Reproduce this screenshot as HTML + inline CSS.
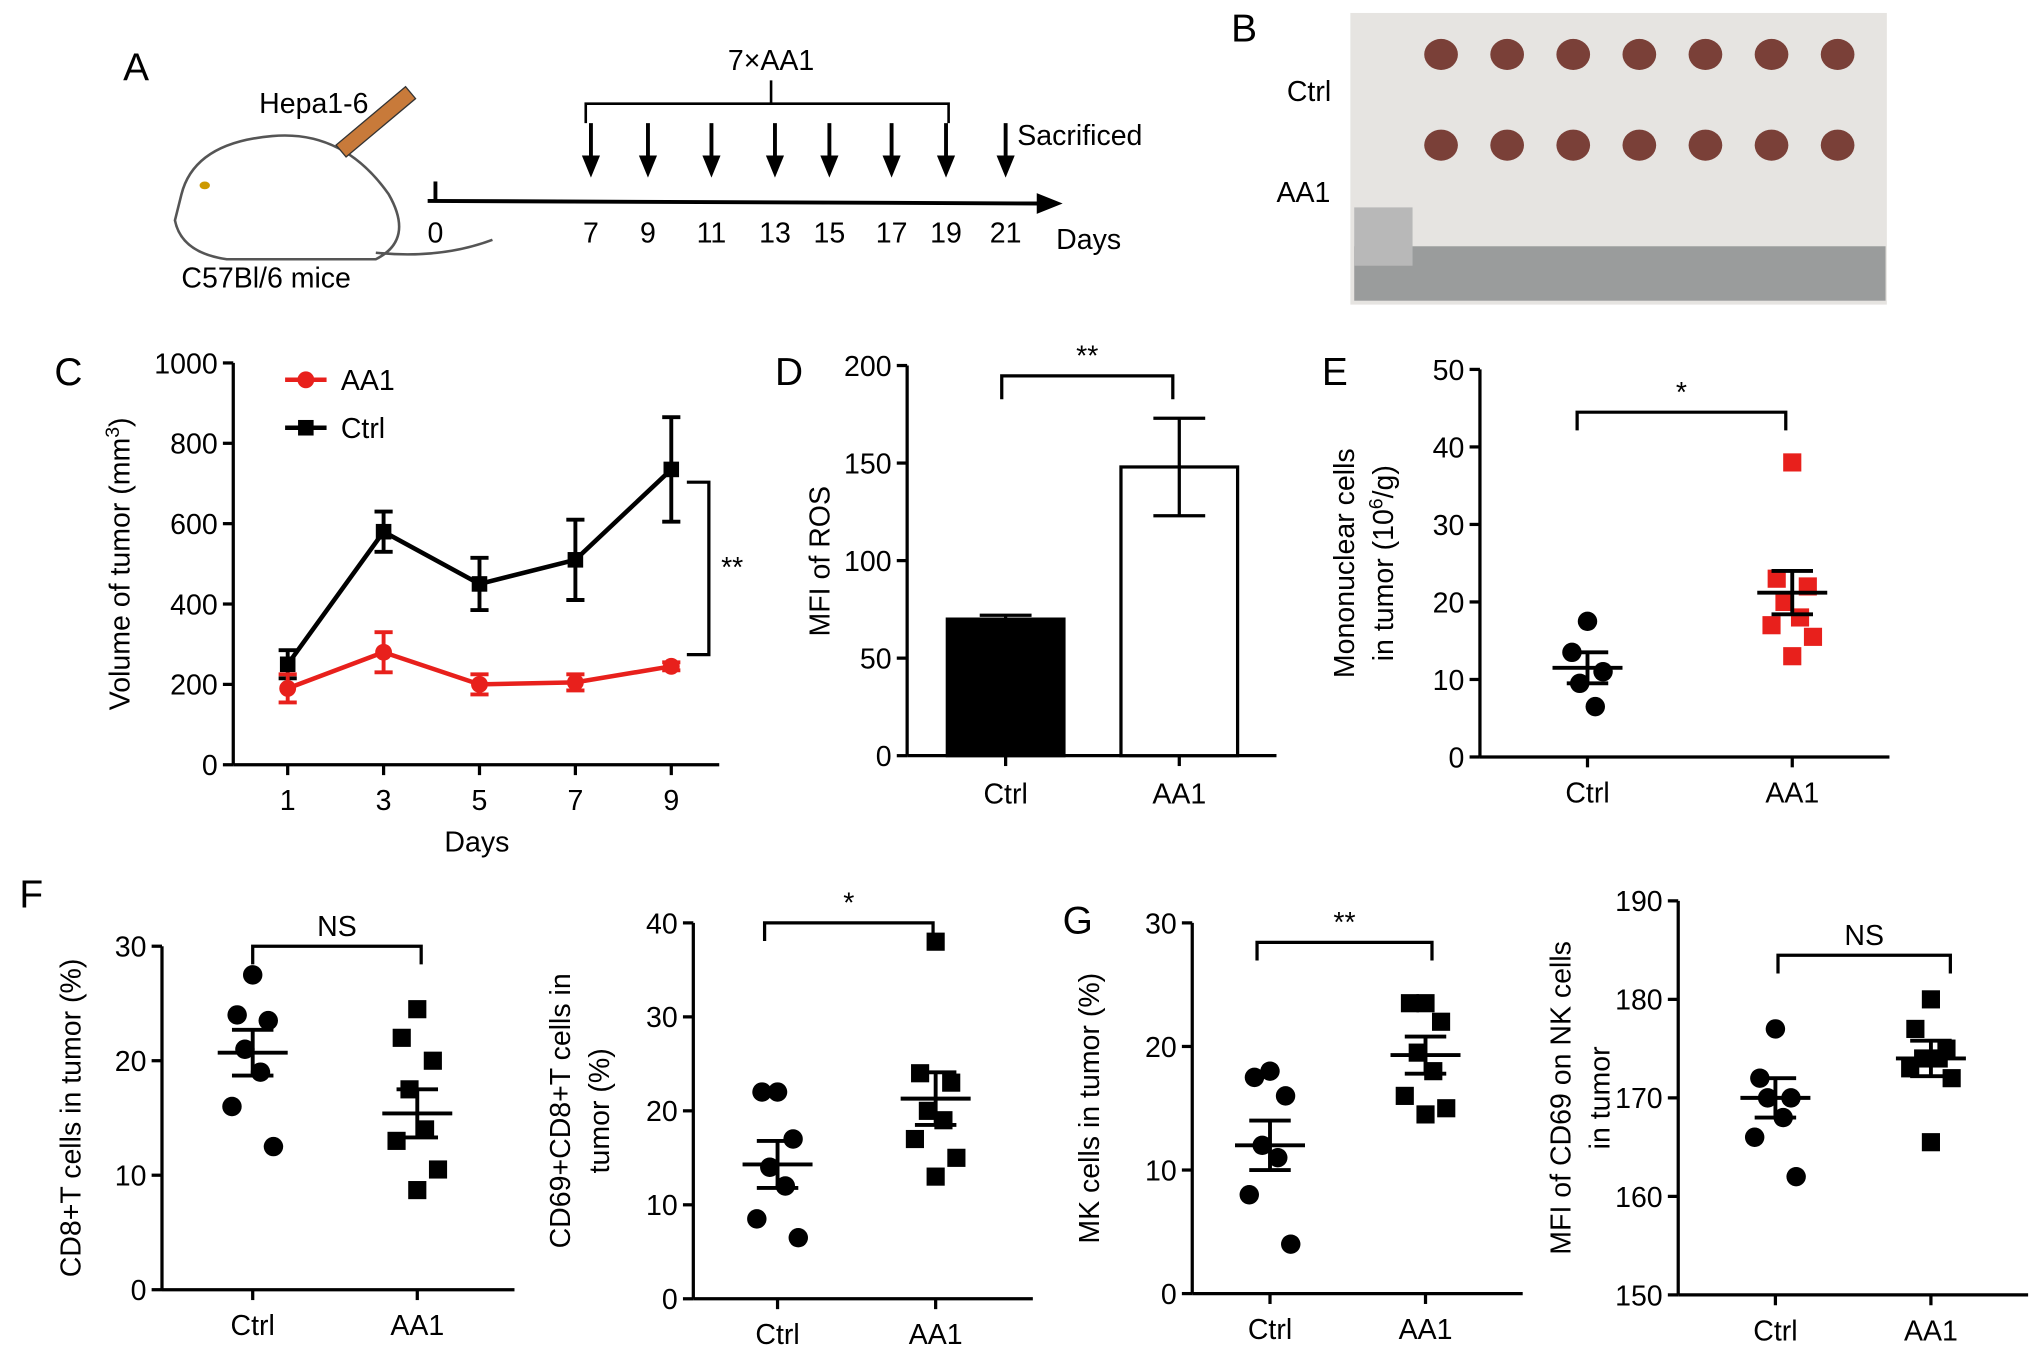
<!DOCTYPE html>
<html><head><meta charset="utf-8"><style>
html,body{margin:0;padding:0;background:#fff}
svg{display:block;font-family:"Liberation Sans",Arial,sans-serif}
</style></head><body>
<svg id="s" width="2032" height="1361" viewBox="0 0 1568 1050" preserveAspectRatio="none">
<!-- Panel A -->
<g font-size="22">
<text x="95" y="62" font-size="30">A</text>
<path d="M140,150 Q150,110 210,105 Q265,100 300,150 Q320,185 290,200 L175,200 Q140,195 135,170 Z" fill="none" stroke="#555" stroke-width="2"/>
<path d="M290,195 Q340,200 380,185" fill="none" stroke="#555" stroke-width="2"/>
<ellipse cx="158" cy="143" rx="4" ry="3" fill="#c90"/>
<rect x="255" y="88" width="70" height="12" fill="#c87a3a" stroke="#333" transform="rotate(-40 290 94)"/>
<text x="200" y="87">Hepa1-6</text>
<text x="140" y="222">C57Bl/6 mice</text>
<line x1="330" y1="155" x2="805" y2="157" stroke="#000" stroke-width="3"/>
<polygon points="800,149 820,157 800,165" fill="#000"/>
<line x1="336" y1="140" x2="336" y2="155" stroke="#000" stroke-width="3"/>
<path d="M452,95 V80 H732 V95 M595,80 V62" fill="none" stroke="#000" stroke-width="2"/>
<text x="595" y="54" text-anchor="middle">7×AA1</text>
<text x="785" y="112">Sacrificed</text>
<text x="815" y="192">Days</text>
<g id="tl"></g>
</g>
<!-- Panel B -->
<g font-size="22">
<text x="950" y="32" font-size="30">B</text>
<rect x="1042" y="10" width="414" height="225" fill="#e6e4e1"/>
<rect x="1045" y="190" width="410" height="42" fill="#9a9c9c"/>
<rect x="1045" y="160" width="45" height="45" fill="#b8b8b8"/>
<text x="993" y="78">Ctrl</text>
<text x="985" y="156">AA1</text>
<g id="tumors"></g>
</g>
<g id="charts"></g>
</svg>
<script>
const NS="http://www.w3.org/2000/svg";
function mk(p,t,a){const e=document.createElementNS(NS,t);for(const k in a)e.setAttribute(k,a[k]);p.appendChild(e);return e;}
function tx(p,x,y,s,a){const e=mk(p,'text',Object.assign({x:x,y:y},a||{}));e.textContent=s;return e;}
// timeline
const tlDays=[0,7,9,11,13,15,17,19,21];
const tlX=[336,456,500,549,598,640,688,730,776];
const tl=document.getElementById('tl');
tlDays.forEach((d,i)=>{const t=tx(tl,tlX[i],187,String(d),{'text-anchor':'middle'});


if(d>=7){mk(tl,'line',{x1:tlX[i],y1:95,x2:tlX[i],y2:122,stroke:'#000','stroke-width':3});
mk(tl,'polygon',{points:`${tlX[i]-7},120 ${tlX[i]+7},120 ${tlX[i]},137`,fill:'#000'});}});
const tm=document.getElementById('tumors');
for(let r=0;r<2;r++)for(let i=0;i<7;i++){const e=mk(tm,'ellipse',{cx:1112+i*51,cy:42+r*70,rx:13,ry:12,fill:'#7a4038'});

}

const ch=document.getElementById('charts');
// ---------- Panel C data ----------
const cDays=[1,3,5,7,9];
const cCtrl=[250,580,450,510,735];
const cCtrlErr=[35,50,65,100,130];
const cAA1=[190,280,200,205,245];
const cAA1Err=[35,50,25,20,10];
const cTicks=[0,200,400,600,800,1000];
// ---------- Panel D data ----------
const dCats=['Ctrl','AA1'];
const dVals=[70,148];
const dErr=[2,25];
const dTicks=[0,50,100,150,200];
// ---------- scatter data ----------
const eCtrl=[17.5,13.5,11,9.5,6.5];
const eAA1=[38,23,22,20,18,17,15.5,13];
const eStats=[[11.5,2],[21.2,2.8]];
const f1Ctrl=[27.5,24,23.5,21,19,16,12.5];
const f1AA1=[24.5,22,20,17.5,14,13,10.5,8.7];
const f1Stats=[[20.7,2],[15.4,2.1]];
const f2Ctrl=[22,22,17,14,12,8.5,6.5];
const f2AA1=[38,24,23,20,19,17,15,13];
const f2Stats=[[14.3,2.5],[21.3,2.8]];
const g1Ctrl=[18,17.5,16,12,11,8,4];
const g1AA1=[23.5,23.5,22,19.5,18,16,15,14.5];
const g1Stats=[[12,2],[19.3,1.5]];
const g2Ctrl=[177,172,170,170,168,166,162];
const g2AA1=[180,177,175,174,174,173,172,165.5];
const g2Stats=[[170,2],[174,1.8]];

function axisY(g,x,y0,y1,ticks,lo,hi){
  const sc=v=>y0-(v-lo)/(hi-lo)*(y0-y1);
  mk(g,'line',{x1:x,y1:y0,x2:x,y2:y1,stroke:'#000','stroke-width':2.5});
  ticks.forEach(t=>{mk(g,'line',{x1:x-8,y1:sc(t),x2:x,y2:sc(t),stroke:'#000','stroke-width':2.5});
   const l=tx(g,x-12,sc(t)+8,String(t),{'text-anchor':'end','font-size':22});
   
   });
  return sc;
}
function ylab(g,x,cy,lines){lines.forEach((s,i)=>{const t=tx(g,x+i*30,cy,'',{'text-anchor':'middle','font-size':22,transform:`rotate(-90 ${x+i*30} ${cy})`});t.innerHTML=s;
 
 });}
function bracket(g,x1,x2,y,h,s){mk(g,'path',{d:`M${x1},${y+h} V${y} H${x2} V${y+h}`,fill:'none',stroke:'#000','stroke-width':2.5});
 const t=tx(g,(x1+x2)/2,y-8,s,{'text-anchor':'middle','font-size':22});
 
 }
function panelLabel(s,x,y){const t=tx(ch,x,y,s,{'font-size':30});
 
 }
function spread(n,i){const o=[0,-12,12,-6,6,-16,16,0];return o[i%o.length];}

// Panel C
(function(){const g=mk(ch,'g',{});


panelLabel('C',42,297);
const sy=axisY(g,180,590,280,cTicks,0,1000);
const sx=d=>222+(d-1)*(518-222)/8;
mk(g,'line',{x1:180,y1:590,x2:555,y2:590,stroke:'#000','stroke-width':2.5});
cDays.forEach(d=>{mk(g,'line',{x1:sx(d),y1:590,x2:sx(d),y2:598,stroke:'#000','stroke-width':2.5});
 const t=tx(g,sx(d),625,String(d),{'text-anchor':'middle','font-size':22});});
const xt=tx(g,368,657,'Days',{'text-anchor':'middle','font-size':22});
ylab(g,100,435,['Volume of tumor (mm<tspan dy="-8" font-size="15">3</tspan><tspan dy="8">)</tspan>']);
[[cCtrl,cCtrlErr,'#000','sq','ctrl'],[cAA1,cAA1Err,'#e8201c','ci','aa1']].forEach(([v,e,c,m,n])=>{
 const pts=cDays.map((d,i)=>sx(d)+','+sy(v[i])).join(' ');
 const pl=mk(g,'polyline',{points:pts,fill:'none',stroke:c,'stroke-width':3.5});
 
 
 cDays.forEach((d,i)=>{const x=sx(d);mk(g,'path',{d:`M${x},${sy(v[i]-e[i])} V${sy(v[i]+e[i])} M${x-7},${sy(v[i]-e[i])} h14 M${x-7},${sy(v[i]+e[i])} h14`,stroke:c,'stroke-width':3});
  const p=m=='sq'?mk(g,'rect',{x:x-6,y:sy(v[i])-6,width:12,height:12,fill:c}):mk(g,'circle',{cx:x,cy:sy(v[i]),r:6.5,fill:c});
  
  });});
[['AA1','#e8201c',293,'ci'],['Ctrl','#000',330,'sq']].forEach(([s,c,y,m])=>{
 mk(g,'line',{x1:220,y1:y,x2:252,y2:y,stroke:c,'stroke-width':3.5});
 if(m=='sq')mk(g,'rect',{x:230,y:y-6,width:12,height:12,fill:c});else mk(g,'circle',{cx:236,cy:y,r:6.5,fill:c});
 const t=tx(g,263,y+8,s,{'font-size':22});});
mk(g,'path',{d:'M530,372 H547 V505 H530',fill:'none',stroke:'#000','stroke-width':2.5});
const st=tx(g,565,445,'**',{'text-anchor':'middle','font-size':22});
})();

// Panel D
(function(){const g=mk(ch,'g',{});


panelLabel('D',598,297);
const sy=axisY(g,700,583,282,dTicks,0,200);
mk(g,'line',{x1:700,y1:583,x2:985,y2:583,stroke:'#000','stroke-width':2.5});
const cx=[776,910];
dCats.forEach((c,i)=>{const x=cx[i];
 const b=mk(g,'rect',{x:x-45,y:sy(dVals[i]),width:90,height:583-sy(dVals[i]),fill:i?'#fff':'#000',stroke:'#000','stroke-width':2.5});
 
 
 mk(g,'path',{d:`M${x},${sy(dVals[i]-dErr[i])} V${sy(dVals[i]+dErr[i])} M${x-20},${sy(dVals[i]+dErr[i])} h40 ${i?`M${x-20},${sy(dVals[i]-dErr[i])} h40`:''}`,stroke:'#000','stroke-width':2.5,fill:'none'});
 mk(g,'line',{x1:x,y1:583,x2:x,y2:591,stroke:'#000','stroke-width':2.5});
 const t=tx(g,x,620,c,{'text-anchor':'middle','font-size':22});});
ylab(g,640,433,['MFI of ROS']);
bracket(g,773,905,290,18,'**');
})();

function scatter(name,ax,y0,y1,ticks,lo,hi,cx,ctrl,aa1,stats,aaColor,aaShape,br,sig,ylines,ylx){
 const g=mk(ch,'g',{});
 
 
 const sy=axisY(g,ax,y0,y1,ticks,lo,hi);
 mk(g,'line',{x1:ax,y1:y0,x2:cx[1]+75,y2:y0,stroke:'#000','stroke-width':2.5});
 ['Ctrl','AA1'].forEach((c,i)=>{mk(g,'line',{x1:cx[i],y1:y0,x2:cx[i],y2:y0+8,stroke:'#000','stroke-width':2.5});
  const t=tx(g,cx[i],y0+35,c,{'text-anchor':'middle','font-size':22});});
 [ctrl,aa1].forEach((arr,gi)=>{const col=gi?aaColor:'#000';
  arr.forEach((v,i)=>{const x=cx[gi]+spread(arr.length,i);
   const p=(gi&&aaShape=='sq')?mk(g,'rect',{x:x-7,y:sy(v)-7,width:14,height:14,fill:col}):mk(g,'circle',{cx:x,cy:sy(v),r:7.5,fill:col});
   
   });
  const m=stats[gi][0],e=stats[gi][1],x=cx[gi];
  mk(g,'path',{d:`M${x-27},${sy(m)} h54 M${x},${sy(m-e)} V${sy(m+e)} M${x-16},${sy(m-e)} h32 M${x-16},${sy(m+e)} h32`,stroke:'#000','stroke-width':3,fill:'none'});});
 bracket(g,br[0],br[1],br[2],14,sig);
 ylab(g,ylx,(y0+y1)/2,ylines);
}
panelLabel('E',1020,297);
scatter('panel-e-scatter',1142,584,285,[0,10,20,30,40,50],0,50,[1225,1383],eCtrl,eAA1,eStats,'#e8201c','sq',[1217,1378,318],'*',['Mononuclear cells','in tumor (10<tspan dy="-8" font-size="15">6</tspan><tspan dy="8">/g)</tspan>'],1045);
panelLabel('F',15,700);
scatter('panel-f-cd8-scatter',125,995,730,[0,10,20,30],0,30,[195,322],f1Ctrl,f1AA1,f1Stats,'#000','sq',[195,325,730],'NS',['CD8+T cells in tumor (%)'],62);
scatter('panel-f-cd69-scatter',535,1002,712,[0,10,20,30,40],0,40,[600,722],f2Ctrl,f2AA1,f2Stats,'#000','sq',[590,720,712],'*',['CD69+CD8+T cells in','tumor (%)'],440);
panelLabel('G',820,720);
scatter('panel-g-nk-scatter',920,998,712,[0,10,20,30],0,30,[980,1100],g1Ctrl,g1AA1,g1Stats,'#000','sq',[970,1105,727],'**',['MK cells in tumor (%)'],848);
scatter('panel-g-mfi-scatter',1295,999,695,[150,160,170,180,190],150,190,[1370,1490],g2Ctrl,g2AA1,g2Stats,'#000','sq',[1372,1505,737],'NS',['MFI of CD69 on NK cells','in tumor'],1212);
</script>
</body></html>
